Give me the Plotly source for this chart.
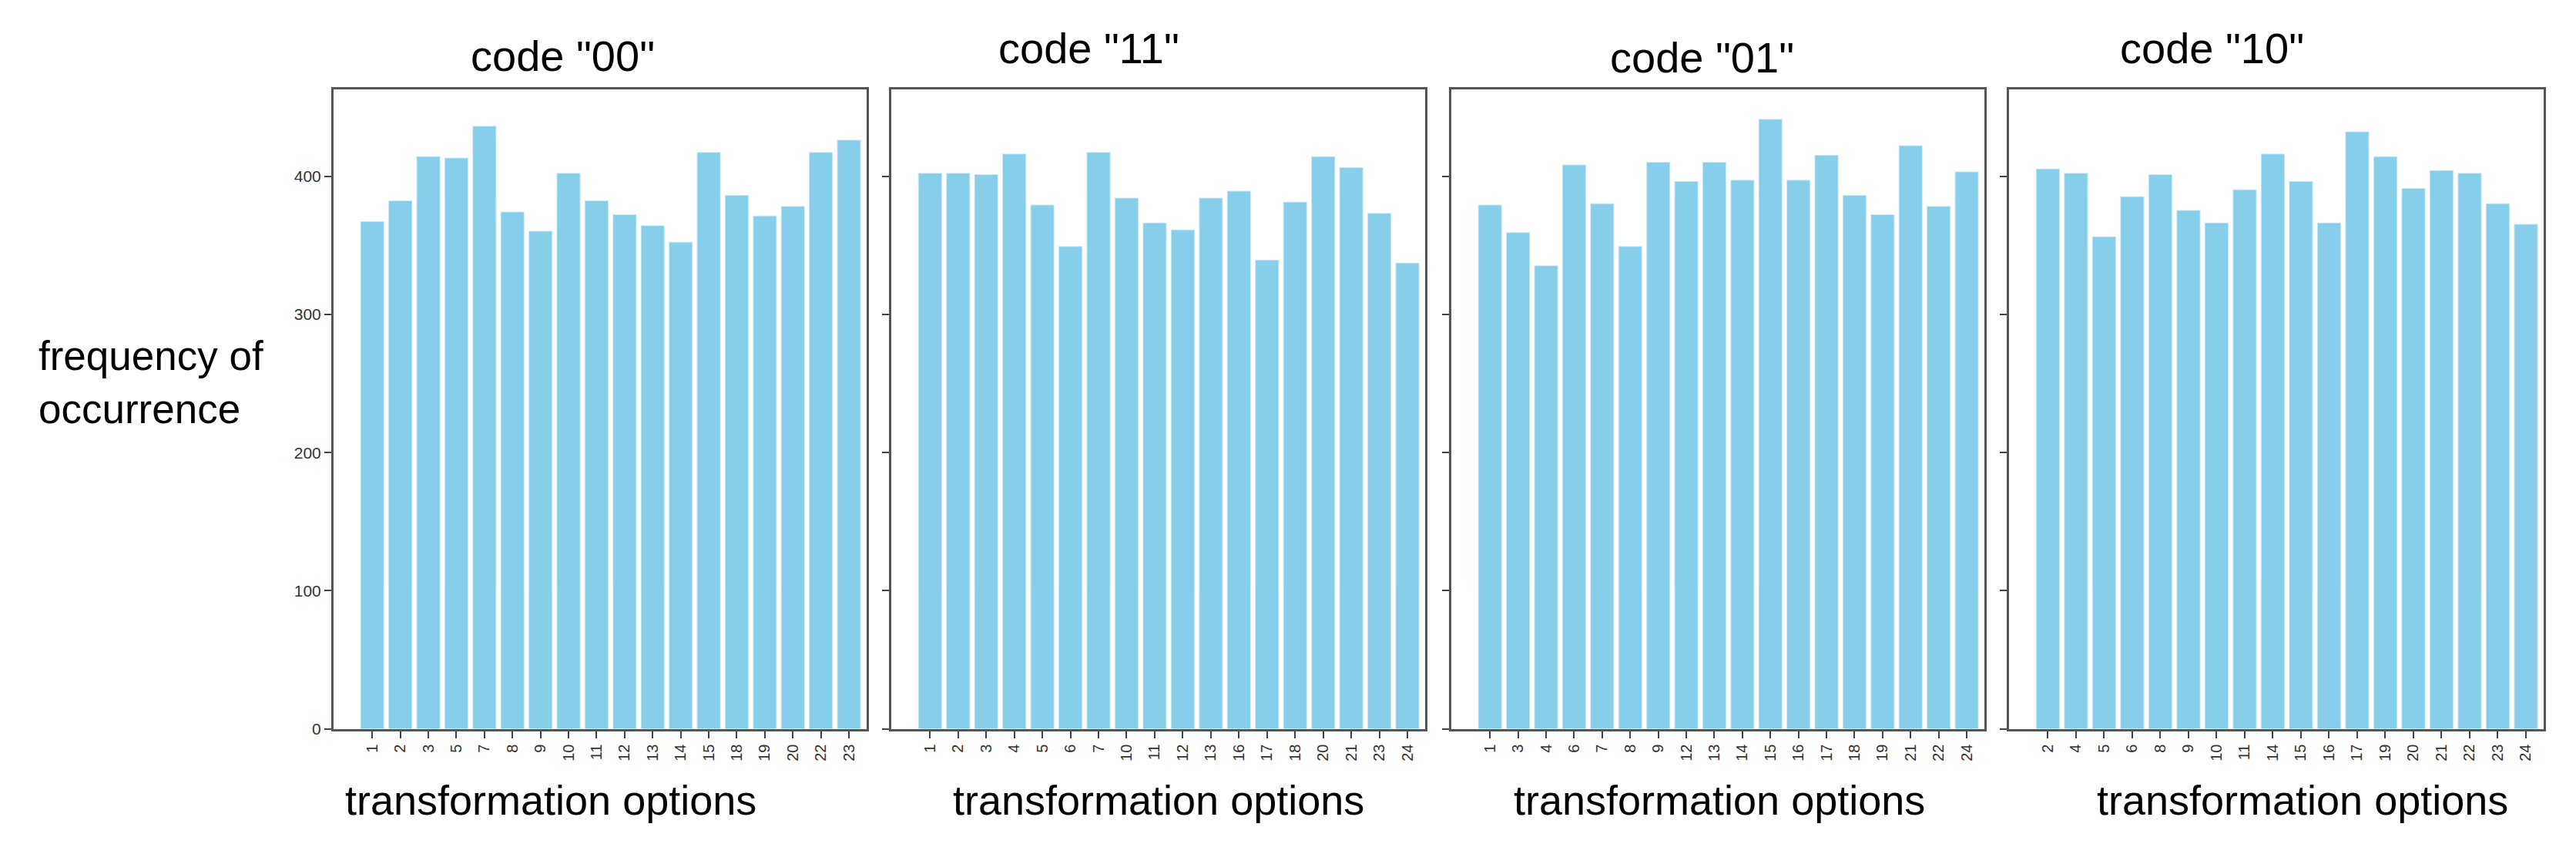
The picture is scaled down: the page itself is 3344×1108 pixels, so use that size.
import plotly.graph_objects as go

W, H = 3344, 1108

# ---- data ----
titles = ['code "00"', 'code "11"', 'code "01"', 'code "10"']

labels_00 = ["1", "2", "3", "5", "7", "8", "9", "10", "11", "12", "13", "14", "15", "18", "19", "20", "22", "23"]
values_00 = [367, 382, 414, 413, 436, 374, 360, 402, 382, 372, 364, 352, 417, 386, 371, 378, 417, 426]

labels_11 = ["1", "2", "3", "4", "5", "6", "7", "10", "11", "12", "13", "16", "17", "18", "20", "21", "23", "24"]
values_11 = [402, 402, 401, 416, 379, 349, 417, 384, 366, 361, 384, 389, 339, 381, 414, 406, 373, 337]

labels_01 = ["1", "3", "4", "6", "7", "8", "9", "12", "13", "14", "15", "16", "17", "18", "19", "21", "22", "24"]
values_01 = [379, 359, 335, 408, 380, 349, 410, 396, 410, 397, 441, 397, 415, 386, 372, 422, 378, 403]

labels_10 = ["2", "4", "5", "6", "8", "9", "10", "11", "14", "15", "16", "17", "19", "20", "21", "22", "23", "24"]
values_10 = [405, 402, 356, 385, 401, 375, 366, 390, 416, 396, 366, 432, 414, 391, 404, 402, 380, 365]

y_ticks = [0, 100, 200, 300, 400]
x_title = "transformation options"
y_title = "frequency of<br>occurrence"

panels = [(labels_00, values_00), (labels_11, values_11), (labels_01, values_01), (labels_10, values_10)]

# ---- layout geometry (pixels) ----
x_doms_px = [(425, 1117), (1149, 1842), (1876, 2568), (2600, 3294)]
y_dom_px = (109, 947)  # top, bottom
title_pos = [(722, 65), (1405, 55), (2201, 67), (2863, 55)]
xlab_pos = [707, 1496, 2224, 2981]
xlab_y = 1040

FONT = "Liberation Sans, Arial, sans-serif"
BAR = "#87CEEB"

fig = go.Figure()
layout = dict(
    width=W, height=H,
    margin=dict(l=0, r=0, t=0, b=0),
    paper_bgcolor="white", plot_bgcolor="white",
    showlegend=False,
    bargap=0.2,
    font=dict(family=FONT, color="#222"),
)

ydom = [1 - y_dom_px[1] / H, 1 - y_dom_px[0] / H]

for i, (labs, vals) in enumerate(panels):
    n = i + 1
    xa = "x" if n == 1 else f"x{n}"
    ya = "y" if n == 1 else f"y{n}"
    fig.add_trace(go.Bar(
        x=labs, y=vals, xaxis=xa, yaxis=ya,
        marker=dict(color=BAR, line=dict(color="rgba(135,206,235,0.45)", width=2)),
        width=0.8,
    ))
    xk = "xaxis" if n == 1 else f"xaxis{n}"
    yk = "yaxis" if n == 1 else f"yaxis{n}"
    layout[xk] = dict(
        domain=[x_doms_px[i][0] / W, x_doms_px[i][1] / W],
        anchor=ya,
        type="category",
        range=[-1.38, len(labs) - 1 + 0.63],
        showline=True, linecolor="#555", linewidth=3, mirror=True,
        ticks="outside", ticklen=9, tickwidth=2, tickcolor="#444",
        tickangle=-90,
        tickfont=dict(size=20, color="#333", family=FONT),
        showgrid=False, zeroline=False,
    )
    layout[yk] = dict(
        domain=ydom,
        anchor=xa,
        range=[0, 463],
        tickvals=y_ticks,
        showticklabels=(n == 1),
        showline=True, linecolor="#555", linewidth=3, mirror=True,
        ticks="outside", ticklen=9, tickwidth=2, tickcolor="#444",
        tickfont=dict(size=21, color="#333", family=FONT),
        showgrid=False, zeroline=False,
    )

annotations = []
for i, t in enumerate(titles):
    annotations.append(dict(
        text=t, xref="paper", yref="paper",
        x=title_pos[i][0] / W, y=1 - title_pos[i][1] / H,
        xanchor="center", yanchor="middle", showarrow=False,
        font=dict(size=56, color="black", family=FONT),
    ))
for i, xc in enumerate(xlab_pos):
    annotations.append(dict(
        text=x_title, xref="paper", yref="paper",
        x=xc / W, y=1 - xlab_y / H,
        xanchor="center", yanchor="middle", showarrow=False,
        font=dict(size=54, color="black", family=FONT),
    ))
annotations.append(dict(
    text=y_title, xref="paper", yref="paper",
    x=40 / W, y=1 - 493 / H,
    xanchor="left", yanchor="middle", align="left", showarrow=False,
    font=dict(size=53, color="black", family=FONT),
))
layout["annotations"] = annotations

fig.update_layout(**layout)
fig.write_html("out.html")
